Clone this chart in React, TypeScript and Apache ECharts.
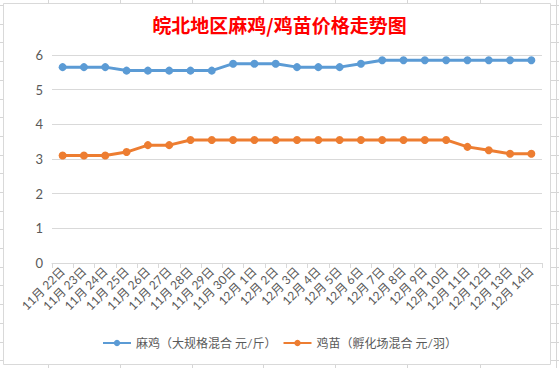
import React, { useEffect, useRef } from "react";
import * as echarts from "echarts";

const titleText = "皖北地区麻鸡/鸡苗价格走势图";
const categories = [
  "11月22日", "11月23日", "11月24日", "11月25日", "11月26日", "11月27日", "11月28日",
  "11月29日", "11月30日", "12月1日", "12月2日", "12月3日", "12月4日", "12月5日",
  "12月6日", "12月7日", "12月8日", "12月9日", "12月10日", "12月11日", "12月12日",
  "12月13日", "12月14日",
];
const seriesNames = ["麻鸡（大规格混合 元/斤）", "鸡苗（孵化场混合 元/羽）"];
const maji = [5.65, 5.65, 5.65, 5.55, 5.55, 5.55, 5.55, 5.55, 5.75, 5.75, 5.75, 5.65, 5.65, 5.65, 5.75, 5.85, 5.85, 5.85, 5.85, 5.85, 5.85, 5.85, 5.85];
const jimiao = [3.1, 3.1, 3.1, 3.2, 3.4, 3.4, 3.55, 3.55, 3.55, 3.55, 3.55, 3.55, 3.55, 3.55, 3.55, 3.55, 3.55, 3.55, 3.55, 3.35, 3.25, 3.15, 3.15];
const yTicks = { min: 0, max: 6, interval: 1 };

const FONT = "Lato, 'Noto Sans CJK SC', sans-serif";
const GRAY = "#595959";

export default function App() {
  const ref = useRef<HTMLDivElement>(null);
  useEffect(() => {
    if (!ref.current) return;
    const chart = echarts.init(ref.current, undefined, { renderer: "svg" });
    const W = 559, H = 368;
    const sheetColor = "#d6d6d6";
    const deco: any[] = [];
    [48, 120, 192, 263, 335, 407, 480].forEach((x) => {
      deco.push({ type: "line", shape: { x1: x + 0.5, y1: 0, x2: x + 0.5, y2: 4 }, style: { stroke: sheetColor, lineWidth: 1 }, z: 0 });
      deco.push({ type: "line", shape: { x1: x + 0.5, y1: 365, x2: x + 0.5, y2: H }, style: { stroke: sheetColor, lineWidth: 1 }, z: 0 });
    });
    deco.push({ type: "line", shape: { x1: 556.5, y1: 0, x2: 556.5, y2: H }, style: { stroke: sheetColor, lineWidth: 1 }, z: 0 });
    for (let y = 5; y < H; y += 18.7) {
      const yy = Math.round(y) + 0.5;
      deco.push({ type: "line", shape: { x1: 0, y1: yy, x2: 3, y2: yy }, style: { stroke: sheetColor, lineWidth: 1 }, z: 0 });
      deco.push({ type: "line", shape: { x1: 551, y1: yy, x2: W, y2: yy }, style: { stroke: sheetColor, lineWidth: 1 }, z: 0 });
    }
    deco.push({
      type: "rect",
      shape: { x: 3.5, y: 3.5, width: 547, height: 361 },
      style: { fill: "#ffffff", stroke: "#d9d9d9", lineWidth: 1 },
      z: -1,
    });

    chart.setOption({
      animation: false,
      backgroundColor: "#ffffff",
      graphic: deco,
      title: {
        text: titleText,
        left: "center",
        top: 10,
        textStyle: { color: "#ff0000", fontSize: 19, fontWeight: "bold", fontFamily: "'Noto Sans CJK SC', sans-serif" },
      },
      legend: {
        top: 332,
        left: "center",
        itemWidth: 28,
        itemHeight: 8,
        itemGap: 6,
        textStyle: { color: GRAY, fontSize: 12, fontFamily: FONT },
        data: seriesNames,
      },
      grid: { left: 52, right: 17, top: 55, bottom: 105, containLabel: false },
      xAxis: {
        type: "category",
        data: categories,
        boundaryGap: true,
        axisLine: { lineStyle: { color: "#d9d9d9" } },
        axisTick: { show: true, length: 5, lineStyle: { color: "#d9d9d9" } },
        axisLabel: {
          rotate: 45,
          interval: 0,
          color: GRAY,
          fontSize: 12,
          margin: 6,
          fontFamily: FONT,
          formatter: (v: string) => v.replace("月", "月 "),
        },
      },
      yAxis: {
        type: "value",
        min: yTicks.min,
        max: yTicks.max,
        interval: yTicks.interval,
        axisLine: { show: false },
        axisTick: { show: false },
        axisLabel: { color: GRAY, fontSize: 13, margin: 9, fontFamily: FONT },
        splitLine: { lineStyle: { color: "#d9d9d9" } },
      },
      series: [
        {
          name: seriesNames[0],
          type: "line",
          data: maji,
          symbol: "circle",
          symbolSize: 8,
          lineStyle: { width: 3, color: "#5b9bd5" },
          itemStyle: { color: "#5b9bd5" },
        },
        {
          name: seriesNames[1],
          type: "line",
          data: jimiao,
          symbol: "circle",
          symbolSize: 8,
          lineStyle: { width: 3, color: "#ed7d31" },
          itemStyle: { color: "#ed7d31" },
        },
      ],
    });
    return () => chart.dispose();
  }, []);
  return (
    <div style={{ position: "fixed", left: 0, top: 0, width: 559, height: 368, background: "#fff" }}>
      <div ref={ref} style={{ width: 559, height: 368 }} />
    </div>
  );
}
